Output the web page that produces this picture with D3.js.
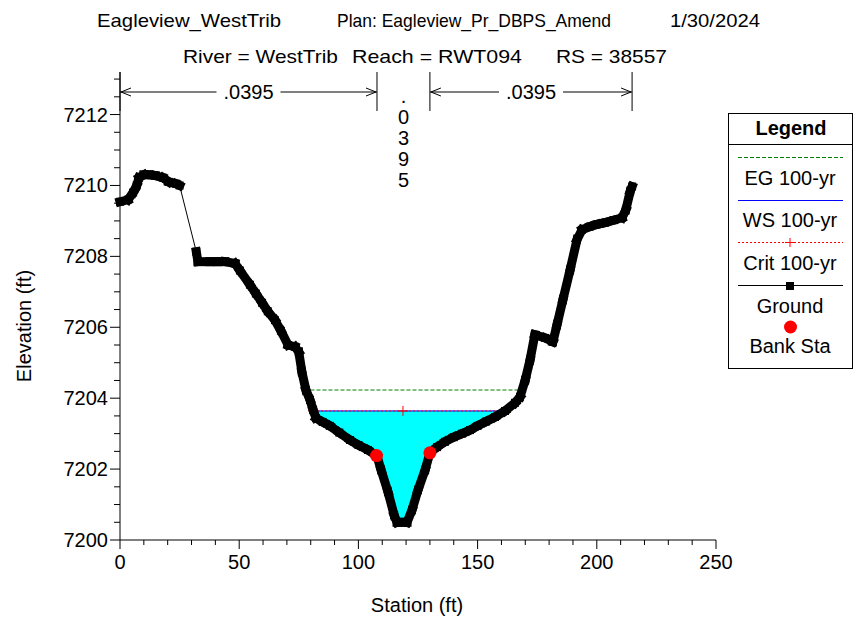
<!DOCTYPE html>
<html><head><meta charset="utf-8">
<script src="https://cdn.jsdelivr.net/npm/d3@7"></script>
<style>body{margin:0;background:#fff}svg{display:block;font-family:"Liberation Sans",Arial,sans-serif}</style>
</head><body><svg id="c" width="859" height="622"></svg>
<script>
// ---- data ----
const groundSta = [0,3.4,5.5,7,8,10,12,14.7,18,20.5,23.5,25,32,32.7,37.7,41,44,48.2,50.3,54.5,57,59.6,62,65,67.5,70.5,73.4,75,76.3,78,79.7,81,82.2,85,88,92,96.5,100,104,107.8,109.5,112.4,115,116.2,118.3,120.4,122.5,125,128,130,133,136.3,140,143.5,146.8,150,153.5,157.3,161.5,165.7,167.8,170,172,174,178.3,181.6,183.3,185.8,188.8,191.7,193.8,197.1,200,203.4,207,210.6,212.2,214,214.8];
const groundElev = [7209.54,7209.6,7209.8,7210.0,7210.22,7210.3,7210.3,7210.28,7210.22,7210.1,7210.05,7210.0,7208.13,7207.85,7207.85,7207.85,7207.85,7207.8,7207.6,7207.2,7206.95,7206.69,7206.45,7206.2,7205.9,7205.5,7205.45,7205.3,7204.74,7204.23,7203.95,7203.67,7203.44,7203.33,7203.22,7203.03,7202.82,7202.68,7202.54,7202.37,7201.98,7201.36,7200.7,7200.5,7200.5,7200.5,7200.85,7201.41,7201.98,7202.46,7202.62,7202.77,7202.9,7203.0,7203.1,7203.22,7203.34,7203.47,7203.64,7203.87,7204.04,7204.52,7205.08,7205.79,7205.7,7205.59,7206.07,7206.78,7207.62,7208.47,7208.75,7208.84,7208.9,7208.95,7209.02,7209.09,7209.32,7209.83,7209.97];
const wsSta = [81.0, 161.5], wsElev = 7203.64;
const egSta = [79.9, 167.8], egElev = 7204.23;
const critSta = [81.0, 118.7, 161.5], critElev = 7203.64;
const bankSta = [107.6, 130.0], bankElev = [7202.38, 7202.46];
const nSta = [0, 107.8, 130, 214.8];
const nLabels = [".0395", ".0395", ".0395"];
const xTicks = [0,50,100,150,200,250];
const yTicks = [7200,7202,7204,7206,7208,7210,7212];
const titleLine1 = ["Eagleview_WestTrib","Plan: Eagleview_Pr_DBPS_Amend","1/30/2024"];
const titleLine2 = ["River = WestTrib","Reach = RWT094","RS = 38557"];
const legendItems = ["EG 100-yr","WS 100-yr","Crit 100-yr","Ground","Bank Sta"];

// ---- chart ----
const svg = d3.select("#c");
const x = d3.scaleLinear().domain([0,250]).range([120,716]);
const y = d3.scaleLinear().domain([7200,7213.2]).range([540,72]);
const F = 20;

// titles
const t1x = [97,337,670], t1w = [184,274,90];
const t2x = [183,352,556], t2w = [155,170,111];
titleLine1.forEach((t,i)=>svg.append("text").attr("x",t1x[i]).attr("y",27).attr("font-size",19)
  .attr("textLength",t1w[i]).attr("lengthAdjust","spacingAndGlyphs").text(t));
titleLine2.forEach((t,i)=>svg.append("text").attr("x",t2x[i]).attr("y",63).attr("font-size",19)
  .attr("textLength",t2w[i]).attr("lengthAdjust","spacingAndGlyphs").text(t));

// water fill
const gpts = groundSta.map((s,i)=>[s,groundElev[i]]);
const inner = gpts.filter(p=>p[0]>wsSta[0] && p[0]<wsSta[1]);
const poly = [[wsSta[0],wsElev],...inner,[wsSta[1],wsElev]];
svg.append("path").attr("d",d3.line().x(d=>x(d[0])).y(d=>y(d[1]))(poly)+"Z").attr("fill","#00ffff");

// EG
svg.append("line").attr("x1",x(egSta[0])).attr("x2",x(egSta[1])).attr("y1",y(egElev)).attr("y2",y(egElev))
  .attr("stroke","#008000").attr("stroke-width",1).attr("stroke-dasharray","4,2");
// WS
svg.append("line").attr("x1",x(wsSta[0])).attr("x2",x(wsSta[1])).attr("y1",y(wsElev)).attr("y2",y(wsElev))
  .attr("stroke","#0000ff").attr("stroke-width",1);
// Crit
svg.append("line").attr("x1",x(critSta[0])).attr("x2",x(critSta[critSta.length-1])).attr("y1",y(critElev)).attr("y2",y(critElev))
  .attr("stroke","#ff0000").attr("stroke-width",1).attr("stroke-dasharray","2,2");
critSta.forEach(s=>{
  const cx=x(s), cy=y(critElev);
  svg.append("path").attr("d",`M${cx-5},${cy}H${cx+5}M${cx},${cy-5}V${cy+5}`).attr("stroke","#ff0000").attr("stroke-width",1);
});

// ground
const line = d3.line().x(d=>x(d[0])).y(d=>y(d[1]));
svg.append("path").attr("d",line(gpts)).attr("fill","none").attr("stroke","#000").attr("stroke-width",1);
for(let i=1;i<gpts.length;i++){
  if(gpts[i][0]-gpts[i-1][0] < 6){
    svg.append("path").attr("d",line([gpts[i-1],gpts[i]])).attr("fill","none").attr("stroke","#000")
      .attr("stroke-width",9).attr("stroke-linecap","square");
  }
}
svg.selectAll(".gm").data(gpts).enter().append("rect").attr("x",d=>x(d[0])-4).attr("y",d=>y(d[1])-4)
  .attr("width",8).attr("height",8).attr("fill","#000");

// bank stations
bankSta.forEach((s,i)=>svg.append("circle").attr("cx",x(s)).attr("cy",y(bankElev[i])).attr("r",6.5).attr("fill","#ff0000"));

// axes
const ya = svg.append("g");
ya.append("line").attr("x1",120).attr("x2",120).attr("y1",72).attr("y2",540).attr("stroke","#000");
for(let v=7200; v<=7213.01; v+=0.5){
  const major = Math.abs(v%2)<1e-6;
  ya.append("line").attr("x1",major?110:114).attr("x2",120).attr("y1",y(v)).attr("y2",y(v)).attr("stroke","#000");
}
yTicks.forEach(v=>ya.append("text").attr("x",108).attr("y",y(v)+7).attr("text-anchor","end").attr("font-size",F).text(v));
const xa = svg.append("g");
xa.append("line").attr("x1",120).attr("x2",716).attr("y1",540).attr("y2",540).attr("stroke","#000");
for(let v=0; v<=250; v+=10){
  const major = v%50===0;
  xa.append("line").attr("x1",x(v)).attr("x2",x(v)).attr("y1",540).attr("y2",major?549:545).attr("stroke","#000");
}
xTicks.forEach(v=>xa.append("text").attr("x",x(v)).attr("y",569).attr("text-anchor","middle").attr("font-size",F).text(v));
svg.append("text").attr("x",417).attr("y",612).attr("text-anchor","middle").attr("font-size",F).text("Station (ft)");
svg.append("text").attr("transform","translate(31,326) rotate(-90)").attr("text-anchor","middle").attr("font-size",F).text("Elevation (ft)");

// n values
nSta.forEach(s=>svg.append("line").attr("x1",x(s)).attr("x2",x(s)).attr("y1",72).attr("y2",111).attr("stroke","#000"));
const arrowY = 92;
[[0,1],[2,3]].forEach(([a,b],k)=>{
  const xa1=x(nSta[a]), xb=x(nSta[b]), mid=(xa1+xb)/2;
  const lbl = nLabels[k===0?0:2];
  const tw = 64;
  svg.append("line").attr("x1",xa1).attr("x2",mid-tw/2).attr("y1",arrowY).attr("y2",arrowY).attr("stroke","#000");
  svg.append("line").attr("x1",mid+tw/2).attr("x2",xb).attr("y1",arrowY).attr("y2",arrowY).attr("stroke","#000");
  svg.append("path").attr("d",`M${xa1+11},${arrowY-4}L${xa1+1},${arrowY}L${xa1+11},${arrowY+4}`).attr("fill","none").attr("stroke","#000");
  svg.append("path").attr("d",`M${xb-11},${arrowY-4}L${xb-1},${arrowY}L${xb-11},${arrowY+4}`).attr("fill","none").attr("stroke","#000");
  svg.append("text").attr("x",mid).attr("y",arrowY+7).attr("text-anchor","middle").attr("font-size",F).text(lbl);
});
const midX = (x(nSta[1])+x(nSta[2]))/2;
nLabels[1].split("").forEach((c,i)=>svg.append("text").attr("x",midX).attr("y",103+i*21).attr("text-anchor","middle").attr("font-size",F).text(c));

// legend
const L = svg.append("g");
L.append("rect").attr("x",728.5).attr("y",113.5).attr("width",124).attr("height",255).attr("fill","#fff").attr("stroke","#000");
L.append("line").attr("x1",728.5).attr("x2",852.5).attr("y1",144.5).attr("y2",144.5).attr("stroke","#000");
L.append("text").attr("x",791).attr("y",135).attr("text-anchor","middle").attr("font-size",F).attr("font-weight","bold").text("Legend");
const lx1=738, lx2=843, lc=790;
L.append("line").attr("x1",lx1).attr("x2",lx2).attr("y1",157.5).attr("y2",157.5).attr("stroke","#008000").attr("stroke-dasharray","4,2");
L.append("line").attr("x1",lx1).attr("x2",lx2).attr("y1",200.5).attr("y2",200.5).attr("stroke","#0000ff");
L.append("line").attr("x1",lx1).attr("x2",lx2).attr("y1",242.5).attr("y2",242.5).attr("stroke","#ff0000").attr("stroke-dasharray","2,2");
L.append("path").attr("d",`M${lc-5},242.5H${lc+5}M${lc},238V247`).attr("stroke","#ff0000");
L.append("line").attr("x1",lx1).attr("x2",lx2).attr("y1",285.5).attr("y2",285.5).attr("stroke","#000");
L.append("rect").attr("x",lc-4).attr("y",282).attr("width",8).attr("height",8).attr("fill","#000");
L.append("circle").attr("cx",lc+0.5).attr("cy",327).attr("r",6.5).attr("fill","#ff0000");
const ly=[185,227,270,313,353];
legendItems.forEach((t,i)=>L.append("text").attr("x",lc).attr("y",ly[i]).attr("text-anchor","middle").attr("font-size",F).text(t));
</script></body></html>
